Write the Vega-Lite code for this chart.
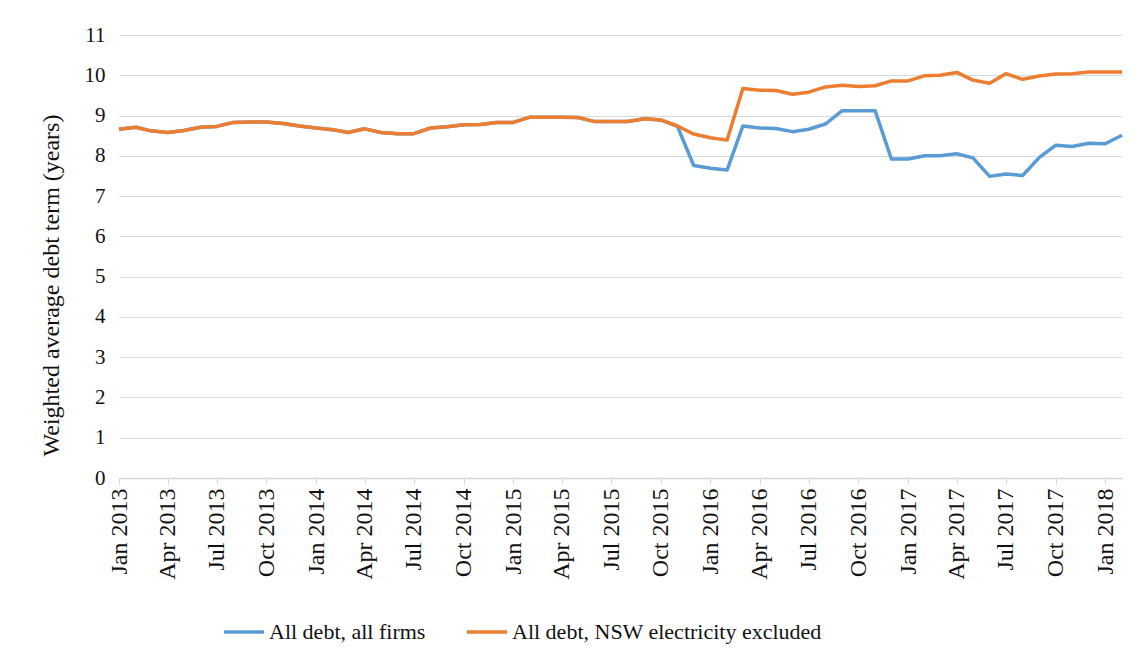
{
  "$schema": "https://vega.github.io/schema/vega-lite/v6.json",
  "autosize": {"type": "none"},
  "width": 1003,
  "height": 443,
  "padding": {"left": 119, "top": 35, "right": 16, "bottom": 181},
  "background": "white",
  "config": {
    "view": {"stroke": null},
    "font": "Liberation Serif"
  },
  "data": {
    "values": [
      {"date": "2013-01-01", "All debt, all firms": 8.66, "All debt, NSW electricity excluded": 8.66},
      {"date": "2013-02-01", "All debt, all firms": 8.71, "All debt, NSW electricity excluded": 8.71},
      {"date": "2013-03-01", "All debt, all firms": 8.62, "All debt, NSW electricity excluded": 8.62},
      {"date": "2013-04-01", "All debt, all firms": 8.58, "All debt, NSW electricity excluded": 8.58},
      {"date": "2013-05-01", "All debt, all firms": 8.63, "All debt, NSW electricity excluded": 8.63},
      {"date": "2013-06-01", "All debt, all firms": 8.71, "All debt, NSW electricity excluded": 8.71},
      {"date": "2013-07-01", "All debt, all firms": 8.73, "All debt, NSW electricity excluded": 8.73},
      {"date": "2013-08-01", "All debt, all firms": 8.83, "All debt, NSW electricity excluded": 8.83},
      {"date": "2013-09-01", "All debt, all firms": 8.84, "All debt, NSW electricity excluded": 8.84},
      {"date": "2013-10-01", "All debt, all firms": 8.84, "All debt, NSW electricity excluded": 8.84},
      {"date": "2013-11-01", "All debt, all firms": 8.8, "All debt, NSW electricity excluded": 8.8},
      {"date": "2013-12-01", "All debt, all firms": 8.74, "All debt, NSW electricity excluded": 8.74},
      {"date": "2014-01-01", "All debt, all firms": 8.69, "All debt, NSW electricity excluded": 8.69},
      {"date": "2014-02-01", "All debt, all firms": 8.65, "All debt, NSW electricity excluded": 8.65},
      {"date": "2014-03-01", "All debt, all firms": 8.58, "All debt, NSW electricity excluded": 8.58},
      {"date": "2014-04-01", "All debt, all firms": 8.67, "All debt, NSW electricity excluded": 8.67},
      {"date": "2014-05-01", "All debt, all firms": 8.58, "All debt, NSW electricity excluded": 8.58},
      {"date": "2014-06-01", "All debt, all firms": 8.55, "All debt, NSW electricity excluded": 8.55},
      {"date": "2014-07-01", "All debt, all firms": 8.55, "All debt, NSW electricity excluded": 8.55},
      {"date": "2014-08-01", "All debt, all firms": 8.69, "All debt, NSW electricity excluded": 8.69},
      {"date": "2014-09-01", "All debt, all firms": 8.72, "All debt, NSW electricity excluded": 8.72},
      {"date": "2014-10-01", "All debt, all firms": 8.77, "All debt, NSW electricity excluded": 8.77},
      {"date": "2014-11-01", "All debt, all firms": 8.78, "All debt, NSW electricity excluded": 8.78},
      {"date": "2014-12-01", "All debt, all firms": 8.83, "All debt, NSW electricity excluded": 8.83},
      {"date": "2015-01-01", "All debt, all firms": 8.83, "All debt, NSW electricity excluded": 8.83},
      {"date": "2015-02-01", "All debt, all firms": 8.96, "All debt, NSW electricity excluded": 8.96},
      {"date": "2015-03-01", "All debt, all firms": 8.96, "All debt, NSW electricity excluded": 8.96},
      {"date": "2015-04-01", "All debt, all firms": 8.96, "All debt, NSW electricity excluded": 8.96},
      {"date": "2015-05-01", "All debt, all firms": 8.95, "All debt, NSW electricity excluded": 8.95},
      {"date": "2015-06-01", "All debt, all firms": 8.85, "All debt, NSW electricity excluded": 8.85},
      {"date": "2015-07-01", "All debt, all firms": 8.85, "All debt, NSW electricity excluded": 8.85},
      {"date": "2015-08-01", "All debt, all firms": 8.85, "All debt, NSW electricity excluded": 8.85},
      {"date": "2015-09-01", "All debt, all firms": 8.92, "All debt, NSW electricity excluded": 8.92},
      {"date": "2015-10-01", "All debt, all firms": 8.89, "All debt, NSW electricity excluded": 8.89},
      {"date": "2015-11-01", "All debt, all firms": 8.73, "All debt, NSW electricity excluded": 8.74},
      {"date": "2015-12-01", "All debt, all firms": 7.76, "All debt, NSW electricity excluded": 8.54},
      {"date": "2016-01-01", "All debt, all firms": 7.69, "All debt, NSW electricity excluded": 8.45},
      {"date": "2016-02-01", "All debt, all firms": 7.65, "All debt, NSW electricity excluded": 8.39},
      {"date": "2016-03-01", "All debt, all firms": 8.74, "All debt, NSW electricity excluded": 9.67},
      {"date": "2016-04-01", "All debt, all firms": 8.69, "All debt, NSW electricity excluded": 9.63},
      {"date": "2016-05-01", "All debt, all firms": 8.68, "All debt, NSW electricity excluded": 9.62},
      {"date": "2016-06-01", "All debt, all firms": 8.6, "All debt, NSW electricity excluded": 9.53},
      {"date": "2016-07-01", "All debt, all firms": 8.66, "All debt, NSW electricity excluded": 9.58},
      {"date": "2016-08-01", "All debt, all firms": 8.79, "All debt, NSW electricity excluded": 9.71},
      {"date": "2016-09-01", "All debt, all firms": 9.12, "All debt, NSW electricity excluded": 9.75},
      {"date": "2016-10-01", "All debt, all firms": 9.12, "All debt, NSW electricity excluded": 9.72},
      {"date": "2016-11-01", "All debt, all firms": 9.12, "All debt, NSW electricity excluded": 9.74},
      {"date": "2016-12-01", "All debt, all firms": 7.92, "All debt, NSW electricity excluded": 9.86},
      {"date": "2017-01-01", "All debt, all firms": 7.92, "All debt, NSW electricity excluded": 9.86},
      {"date": "2017-02-01", "All debt, all firms": 8.0, "All debt, NSW electricity excluded": 9.99},
      {"date": "2017-03-01", "All debt, all firms": 8.0, "All debt, NSW electricity excluded": 10.0},
      {"date": "2017-04-01", "All debt, all firms": 8.05, "All debt, NSW electricity excluded": 10.07},
      {"date": "2017-05-01", "All debt, all firms": 7.95, "All debt, NSW electricity excluded": 9.88},
      {"date": "2017-06-01", "All debt, all firms": 7.49, "All debt, NSW electricity excluded": 9.8},
      {"date": "2017-07-01", "All debt, all firms": 7.55, "All debt, NSW electricity excluded": 10.04},
      {"date": "2017-08-01", "All debt, all firms": 7.51, "All debt, NSW electricity excluded": 9.9},
      {"date": "2017-09-01", "All debt, all firms": 7.96, "All debt, NSW electricity excluded": 9.98},
      {"date": "2017-10-01", "All debt, all firms": 8.26, "All debt, NSW electricity excluded": 10.03},
      {"date": "2017-11-01", "All debt, all firms": 8.23, "All debt, NSW electricity excluded": 10.04},
      {"date": "2017-12-01", "All debt, all firms": 8.31, "All debt, NSW electricity excluded": 10.08},
      {"date": "2018-01-01", "All debt, all firms": 8.3, "All debt, NSW electricity excluded": 10.08},
      {"date": "2018-02-01", "All debt, all firms": 8.51, "All debt, NSW electricity excluded": 10.08}
    ]
  },
  "transform": [
    {"fold": ["All debt, all firms", "All debt, NSW electricity excluded"], "as": ["series", "value"]}
  ],
  "encoding": {
    "x": {
      "field": "date",
      "type": "temporal",
      "scale": {"type": "utc", "domain": [{"year": 2013, "month": 1, "date": 1, "utc": true}, {"year": 2018, "month": 2, "date": 1, "utc": true}], "nice": false},
      "axis": {
        "title": null,
        "labelExpr": "utcFormat(datum.value, '%b %Y')",
        "tickCount": {"interval": "month", "step": 3},
        "labelAngle": -90,
        "labelFont": "Liberation Serif",
        "labelFontSize": 24,
        "labelColor": "#111111",
        "labelPadding": 4,
        "labelOverlap": false,
        "labelFlush": false,
        "grid": false,
        "domainColor": "#D9D9D9",
        "domainWidth": 1.5,
        "tickColor": "#D9D9D9",
        "tickSize": 6
      }
    },
    "y": {
      "field": "value",
      "type": "quantitative",
      "scale": {"domain": [0, 11], "nice": false},
      "axis": {
        "title": "Weighted average debt term (years)",
        "titleFont": "Liberation Serif",
        "titleFontSize": 24,
        "titleFontWeight": "normal",
        "titleColor": "#111111",
        "titleX": -56,
        "titleY": 250,
        "titleAngle": -90,
        "titleBaseline": "bottom",
        "values": [0, 1, 2, 3, 4, 5, 6, 7, 8, 9, 10, 11],
        "labelFont": "Liberation Serif",
        "labelFontSize": 21,
        "labelColor": "#111111",
        "labelPadding": 14,
        "domain": false,
        "ticks": false,
        "grid": true,
        "gridColor": "#D9D9D9",
        "gridWidth": 1.2
      }
    },
    "color": {
      "field": "series",
      "type": "nominal",
      "scale": {"domain": ["All debt, all firms", "All debt, NSW electricity excluded"], "range": ["#5B9BD5", "#ED7D31"]},
      "legend": {
        "title": null,
        "orient": "none",
        "direction": "horizontal",
        "legendX": 103,
        "legendY": 575,
        "symbolType": "stroke",
        "symbolSize": 1600,
        "symbolStrokeWidth": 3.5,
        "labelFont": "Liberation Serif",
        "labelFontSize": 22,
        "labelColor": "#111111",
        "labelOffset": 3,
        "columnPadding": 34,
        "labelLimit": 500
      }
    }
  },
  "layer": [
    {
      "transform": [{"filter": "datum.series === 'All debt, all firms'"}],
      "mark": {"type": "line", "strokeWidth": 3.5, "strokeJoin": "round"}
    },
    {
      "transform": [{"filter": "datum.series === 'All debt, NSW electricity excluded'"}],
      "mark": {"type": "line", "strokeWidth": 3.5, "strokeJoin": "round"}
    }
  ]
}
